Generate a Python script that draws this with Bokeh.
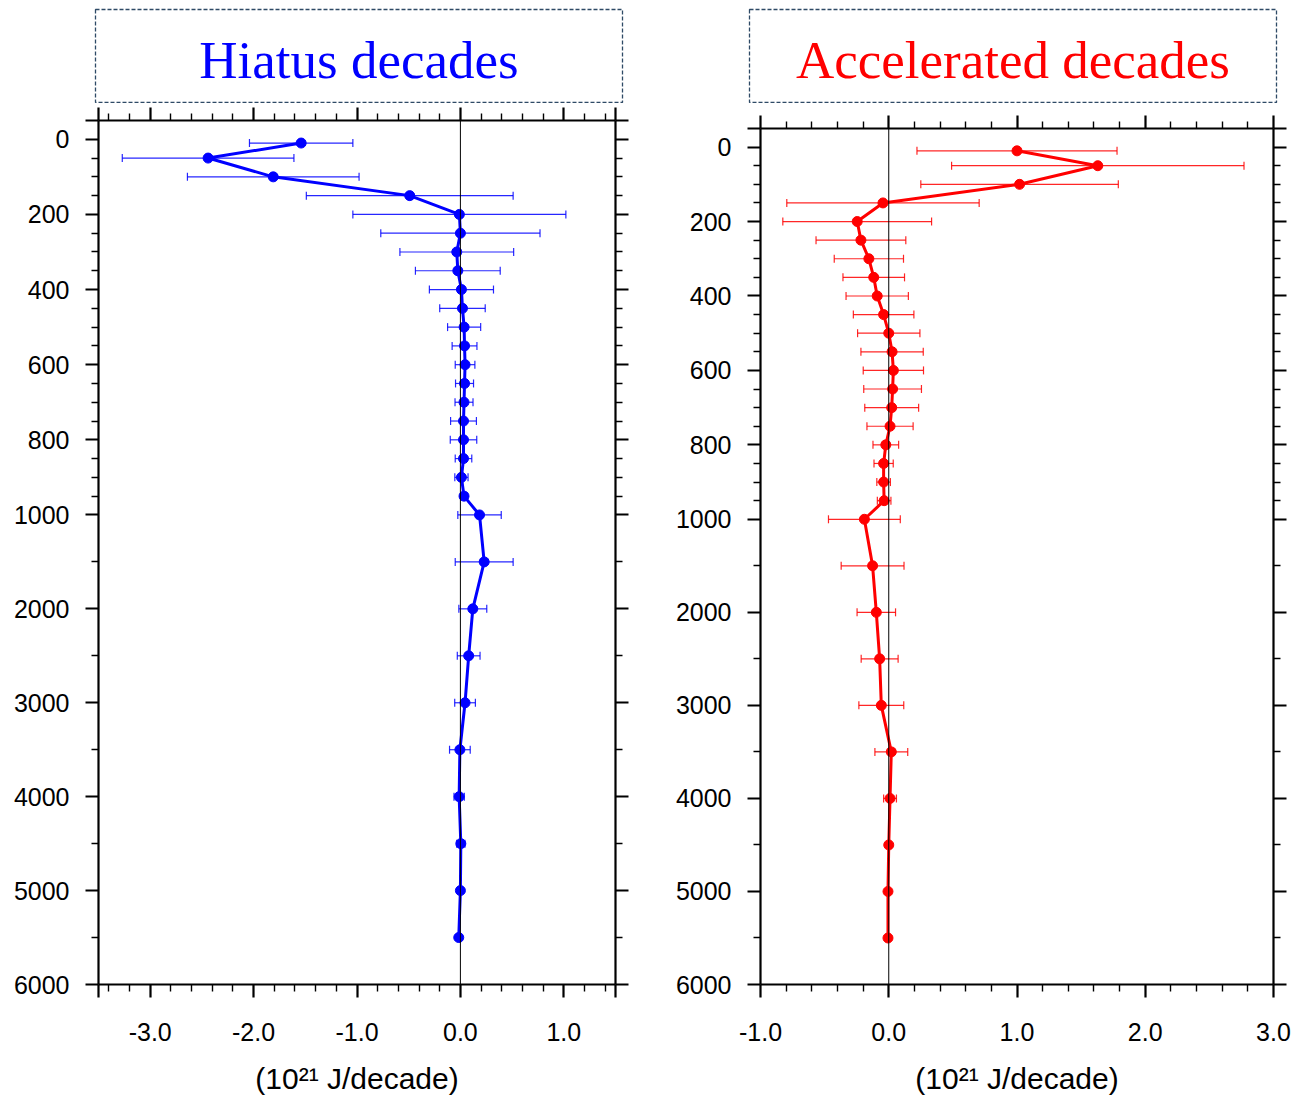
from bokeh.plotting import figure
from bokeh.models import (ColumnDataSource, Range1d, FixedTicker, LinearAxis,
                          Span, Whisker, TeeHead, CustomLabelingPolicy, Spacer)
from bokeh.layouts import row, column
from bokeh.embed import file_html
from bokeh.resources import INLINE
from bokeh.core.properties import value

# ---------------- data ----------------
depth = [10, 50, 100, 150, 200, 250, 300, 350, 400, 450, 500, 550, 600, 650,
         700, 750, 800, 850, 900, 950, 1000, 1500, 2000, 2500, 3000, 3500,
         4000, 4500, 5000, 5500]

hiatus = [-1.54, -2.44, -1.81, -0.49, -0.01, 0.00, -0.035, -0.025, 0.01, 0.02,
          0.036, 0.04, 0.045, 0.04, 0.035, 0.03, 0.03, 0.03, 0.01, 0.035,
          0.185, 0.23, 0.12, 0.08, 0.045, -0.005, -0.012, 0.004, 0.0, -0.016]
hiatus_err = [0.50, 0.83, 0.83, 1.00, 1.03, 0.77, 0.55, 0.41, 0.31, 0.22,
              0.16, 0.12, 0.095, 0.087, 0.087, 0.125, 0.128, 0.08, 0.064, 0.03,
              0.21, 0.28, 0.135, 0.11, 0.10, 0.10, 0.05, 0.04, 0.015, 0.02]

accel = [1.00, 1.63, 1.02, -0.045, -0.246, -0.217, -0.155, -0.117, -0.09, -0.04,
         0.0, 0.026, 0.036, 0.03, 0.023, 0.01, -0.023, -0.04, -0.04, -0.036,
         -0.19, -0.126, -0.097, -0.071, -0.058, 0.02, 0.01, 0.0, -0.006, -0.006]
accel_err = [0.78, 1.14, 0.77, 0.75, 0.58, 0.35, 0.27, 0.24, 0.243, 0.236,
             0.243, 0.243, 0.235, 0.225, 0.21, 0.18, 0.10, 0.075, 0.053, 0.053,
             0.28, 0.245, 0.15, 0.144, 0.175, 0.128, 0.05, 0.015, 0.01, 0.01]

depth_major = [0, 200, 400, 600, 800, 1000, 2000, 3000, 4000, 5000, 6000]
depth_minor = [50, 100, 150, 250, 300, 350, 450, 500, 550, 650, 700, 750,
               850, 900, 950, 1500, 2500, 3500, 4500, 5500]

titles = ["Hiatus decades", "Accelerated decades"]
colors = ["#0000FF", "#FF0000"]
x_label = "(10\u00b2\u00b9 J/decade)"


# depth axis is stretched above 1000 m (piecewise linear)
def tdepth(d):
    return d if d <= 1000 else 1000 + (d - 1000) * 0.25


FONT = "Liberation Sans"

HIDE_ALL = CustomLabelingPolicy(
    code="for (const i of indices) { indices.unset(i) } return indices")


def skip_policy(skip):
    return CustomLabelingPolicy(
        args=dict(skip=skip),
        code="""
        const n = indices.size
        for (const s of skip) {
            const j = s < 0 ? n + s : s
            if (j >= 0 && j < n) indices.unset(j)
        }
        return indices
        """)


def title_fig(text, color, width, left, right):
    t = figure(width=width, height=103, x_range=Range1d(0, 1),
               y_range=Range1d(0, 1), toolbar_location=None,
               output_backend="svg", x_axis_location=None,
               y_axis_location=None, title=None,
               min_border_left=left, min_border_right=right,
               min_border_top=9, min_border_bottom=0)
    t.grid.visible = False
    t.outline_line_color = "#2E4A66"
    t.outline_line_dash = "4 2"
    t.outline_line_width = 1.3
    t.text(x=[0.5], y=[0.46], text=[text], text_align="center",
           text_baseline="middle", text_font=value("Liberation Serif"),
           text_font_size="53px", text_color=color)
    return t


def style_axis(ax, show_labels):
    ax.axis_line_width = 2.2
    ax.axis_line_color = "black"
    ax.major_tick_line_width = 2.2
    ax.major_tick_line_color = "black"
    ax.minor_tick_line_width = 1.4
    ax.minor_tick_line_color = "black"
    ax.major_tick_out = 13
    ax.major_tick_in = 0
    ax.minor_tick_out = 7
    ax.minor_tick_in = 0
    if show_labels:
        ax.major_label_text_font = FONT
        ax.major_label_text_font_size = "25px"
        ax.major_label_text_color = "black"
        ax.major_label_standoff = 16
    else:
        ax.major_label_text_font_size = "1px"
        ax.major_label_standoff = 0
        ax.major_label_policy = HIDE_ALL


def profile(vals, errs, color, xr, xmajor, xminor, width, height, left, right,
            top):
    ty = [tdepth(d) for d in depth]
    lo = [v - e for v, e in zip(vals, errs)]
    hi = [v + e for v, e in zip(vals, errs)]
    src = ColumnDataSource(dict(x=vals, y=ty, lo=lo, hi=hi))

    p = figure(width=width, height=height, x_range=Range1d(*xr),
               y_range=Range1d(tdepth(6000), -50), toolbar_location=None,
               output_backend="svg", title=None,
               min_border_left=left, min_border_right=right,
               min_border_top=top, min_border_bottom=116)
    p.grid.visible = False
    p.outline_line_color = None

    yt_major = [-50] + [tdepth(d) for d in depth_major]
    yt_minor = [tdepth(d) for d in depth_minor]
    ylabels = {tdepth(d): str(d) for d in depth_major}

    xt_major = list(xmajor)
    xskip = []
    if xr[0] not in xmajor:
        xt_major = [xr[0]] + xt_major
        xskip.append(0)
    if xr[1] not in xmajor:
        xt_major = xt_major + [xr[1]]
        xskip.append(-1)
    xlabels = {m: "%.1f" % m for m in xmajor}

    # left / bottom axes
    yax = p.yaxis[0]
    yax.ticker = FixedTicker(ticks=yt_major, minor_ticks=yt_minor)
    yax.major_label_overrides = ylabels
    style_axis(yax, True)
    yax.major_label_policy = skip_policy([0])

    xax = p.xaxis[0]
    xax.ticker = FixedTicker(ticks=xt_major, minor_ticks=xminor)
    xax.major_label_overrides = xlabels
    style_axis(xax, True)
    if xskip:
        xax.major_label_policy = skip_policy(xskip)
    xax.major_label_standoff = 25
    xax.axis_label = x_label
    xax.axis_label_text_font = FONT
    xax.axis_label_text_font_size = "30px"
    xax.axis_label_text_font_style = "normal"
    xax.axis_label_text_color = "black"
    xax.axis_label_standoff = 18

    # mirrored right / top axes (ticks only)
    rax = LinearAxis(ticker=FixedTicker(ticks=yt_major, minor_ticks=yt_minor))
    style_axis(rax, False)
    p.add_layout(rax, "right")
    tax = LinearAxis(ticker=FixedTicker(ticks=xt_major, minor_ticks=xminor))
    style_axis(tax, False)
    p.add_layout(tax, "above")

    p.add_layout(Span(location=0, dimension="height", line_color="black",
                      line_width=1))

    w = Whisker(source=src, base="y", lower="lo", upper="hi",
                dimension="width", line_color=color, line_width=1.2,
                line_alpha=0.85,
                upper_head=TeeHead(size=8, line_color=color, line_width=1.2,
                                   line_alpha=0.85),
                lower_head=TeeHead(size=8, line_color=color, line_width=1.2,
                                   line_alpha=0.85))
    p.add_layout(w)
    p.line("x", "y", source=src, line_width=3, line_color=color)
    p.scatter("x", "y", source=src, size=10, fill_color=color,
              line_color=color)
    return p


def minor_list(a, b):
    out = []
    k = int(round(a * 5))
    while k <= int(round(b * 5)):
        v = k / 5.0
        if abs(v - round(v)) > 1e-9:
            out.append(round(v, 2))
        k += 1
    return out


t1 = title_fig(titles[0], colors[0], 640, 95, 18)
p1 = profile(hiatus, hiatus_err, colors[0], (-3.5, 1.5),
             [-3.0, -2.0, -1.0, 0.0, 1.0], minor_list(-3.5, 1.5),
             640, 997, 98, 25, 17)

t2 = title_fig(titles[1], colors[1], 659, 109, 23)
p2 = profile(accel, accel_err, colors[1], (-1.0, 3.0),
             [-1.0, 0.0, 1.0, 2.0, 3.0], minor_list(-1.0, 3.0),
             659, 989, 120, 26, 17)

layout = column(row(t1, t2),
                row(column(p1), column(Spacer(width=659, height=8), p2)))

open("out.html", "w").write(file_html(layout, INLINE))
